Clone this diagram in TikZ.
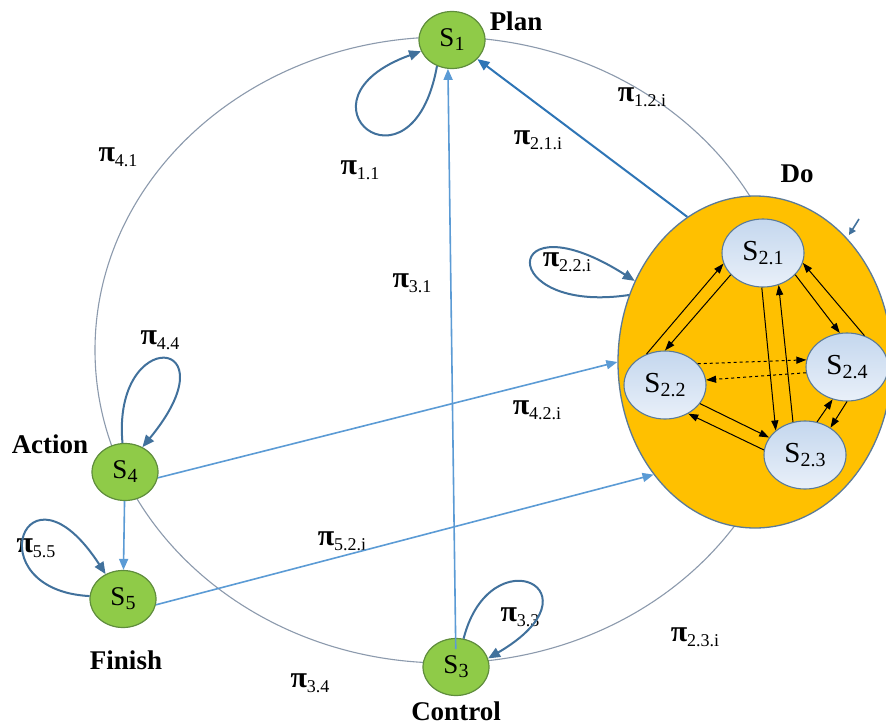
\documentclass[tikz,border=0pt]{standalone}
\usepackage{fontspec}
\setmainfont{Liberation Serif}
\usetikzlibrary{arrows.meta,shapes.geometric,calc}
\definecolor{gfill}{HTML}{8FCB48}
\definecolor{gdraw}{HTML}{5F8D3C}
\definecolor{dofill}{HTML}{FFC000}
\definecolor{dodraw}{HTML}{5A7A98}
\definecolor{lblue}{HTML}{5B9BD5}
\definecolor{dblue}{HTML}{2E75B6}
\definecolor{steel}{HTML}{41719C}
\definecolor{ring}{HTML}{8C9AAD}
\definecolor{itop}{HTML}{C4D7EE}
\definecolor{ibot}{HTML}{E9F0F9}
\newcommand{\sS}[1]{{\fontsize{27}{27}\selectfont S}\raisebox{-4pt}{\fontsize{20}{20}\selectfont #1}}
\newcommand{\iS}[1]{{\fontsize{29}{29}\selectfont S}\raisebox{-4pt}{\fontsize{20}{20}\selectfont #1}}
\newcommand{\plab}[1]{{\fontsize{30}{30}\selectfont\bfseries π}\raisebox{-5pt}{\fontsize{18}{18}\selectfont #1}}
\tikzset{
  gnode/.style={ellipse, draw=gdraw, line width=1.2pt, fill=gfill, minimum width=66pt, minimum height=57pt, inner sep=0pt},
  inode/.style={ellipse, draw=dodraw, line width=1.1pt, top color=itop, bottom color=ibot, minimum width=82pt, minimum height=68pt, inner sep=0pt},
  donode/.style={ellipse, draw=dodraw, line width=1.3pt, fill=dofill, minimum width=274pt, minimum height=332pt, inner sep=0pt},
  title/.style={font=\fontsize{27}{27}\selectfont\bfseries, inner sep=0pt},
  plabel/.style={inner sep=0pt},
  ringline/.style={draw=ring, line width=1.1pt},
  larrow/.style={draw=lblue, line width=1.6pt, -{Triangle[length=11pt,width=9pt]}},
  darrow/.style={draw=dblue, line width=2pt, -{Triangle[length=12pt,width=10pt]}},
  selfloop/.style={draw=steel, line width=2pt, -{Triangle[length=12pt,width=10pt]}},
  iarrow/.style={draw=black, line width=1pt, -{Triangle[length=10pt,width=7pt]}},
}
\begin{document}
\begin{tikzpicture}[x=1pt,y=-1pt]
\useasboundingbox (0,0) rectangle (886,725);
\fill[white] (0,0) rectangle (886,725);
% big ring
\draw[ringline] (445,350) ellipse [x radius=350, y radius=313];
% Do ellipse
\node[donode] (Do) at (755,362) {};
% green nodes
\node[gnode] (S1) at (452,40) {\sS{1}};
\node[gnode] (S3) at (456,667) {\sS{3}};
\node[gnode] (S4) at (125,472) {\sS{4}};
\node[gnode] (S5) at (123,599) {\sS{5}};
% inner nodes
\node[inode] (S21) at (763,253) {\iS{2.1}};
\node[inode] (S22) at (665,385) {\iS{2.2}};
\node[inode] (S24) at (847,367) {\iS{2.4}};
\node[inode] (S23) at (805,455) {\iS{2.3}};
% titles
\node[title] (tplan) at (516,21) {Plan};
\node[title] (tdo) at (797,174) {Do};
\node[title] (taction) at (50,444) {Action};
\node[title] (tfinish) at (126,660) {Finish};
\node[title] (tcontrol) at (456,711) {Control};
% pi labels
\node[plabel] (p11) at (360,170) {\plab{1.1}};
\node[plabel] (p21i) at (538,140) {\plab{2.1.i}};
\node[plabel] (p12i) at (642,97) {\plab{1.2.i}};
\node[plabel] (p41) at (118,157) {\plab{4.1}};
\node[plabel] (p22i) at (567,262) {\plab{2.2.i}};
\node[plabel] (p31) at (412,283) {\plab{3.1}};
\node[plabel] (p44) at (160,340) {\plab{4.4}};
\node[plabel] (p42i) at (537,410) {\plab{4.2.i}};
\node[plabel] (p55) at (36,548) {\plab{5.5}};
\node[plabel] (p52i) at (342,541) {\plab{5.2.i}};
\node[plabel] (p33) at (520,617) {\plab{3.3}};
\node[plabel] (p23i) at (695,637) {\plab{2.3.i}};
\node[plabel] (p34) at (310,683) {\plab{3.4}};
% blue arrows
\draw[darrow] (Do.115) -- (S1);
\draw[larrow] (S4.-10) -- (Do.180);
\draw[larrow] (S5.-10) -- (Do.228);
\draw[larrow] (S4) -- (S5);
\draw[larrow, shorten <=18pt] (S3.center) -- (S1.262);
% self loops
\draw[selfloop] (S1.240) .. controls (412,205) and (285,100) .. (S1.200);
\draw[selfloop] (S4.95) .. controls (112,325) and (235,335) .. (S4.55);
\draw[selfloop] (S5.175) .. controls (-25,590) and (25,450) .. (S5.125);
\draw[selfloop] (S3.75) .. controls (490,535) and (605,590) .. (S3.15);
\draw[selfloop] (Do.152) .. controls (495,315) and (500,195) .. (Do.146);
% small arrow
\coordinate (sa1) at (859,219);
\coordinate (sa2) at (849,235);
\draw[draw=steel, line width=1.6pt, -{Triangle[length=7pt,width=7pt]}] (sa1) -- (sa2);
% inner arrows
\draw[iarrow] (S22.121) -- (S21.195);
\draw[iarrow] (S21.214) -- (S22.90);
\draw[iarrow] (S21.268) -- (S23.140);
\draw[iarrow] (S23.110) -- (S21.296);
\draw[iarrow] (S21.326) -- (S24.102);
\draw[iarrow] (S24.61) -- (S21.346);
\draw[iarrow, dashed] (S22.33) -- (S24.170);
\draw[iarrow, dashed] (S24.188) -- (S22.7);
\draw[iarrow] (S22.332) -- (S23.154);
\draw[iarrow] (S23.173) -- (S22.309);
\draw[iarrow] (S23.70) -- (S24.246);
\draw[iarrow] (S24.270) -- (S23.47);
\end{tikzpicture}
\end{document}
